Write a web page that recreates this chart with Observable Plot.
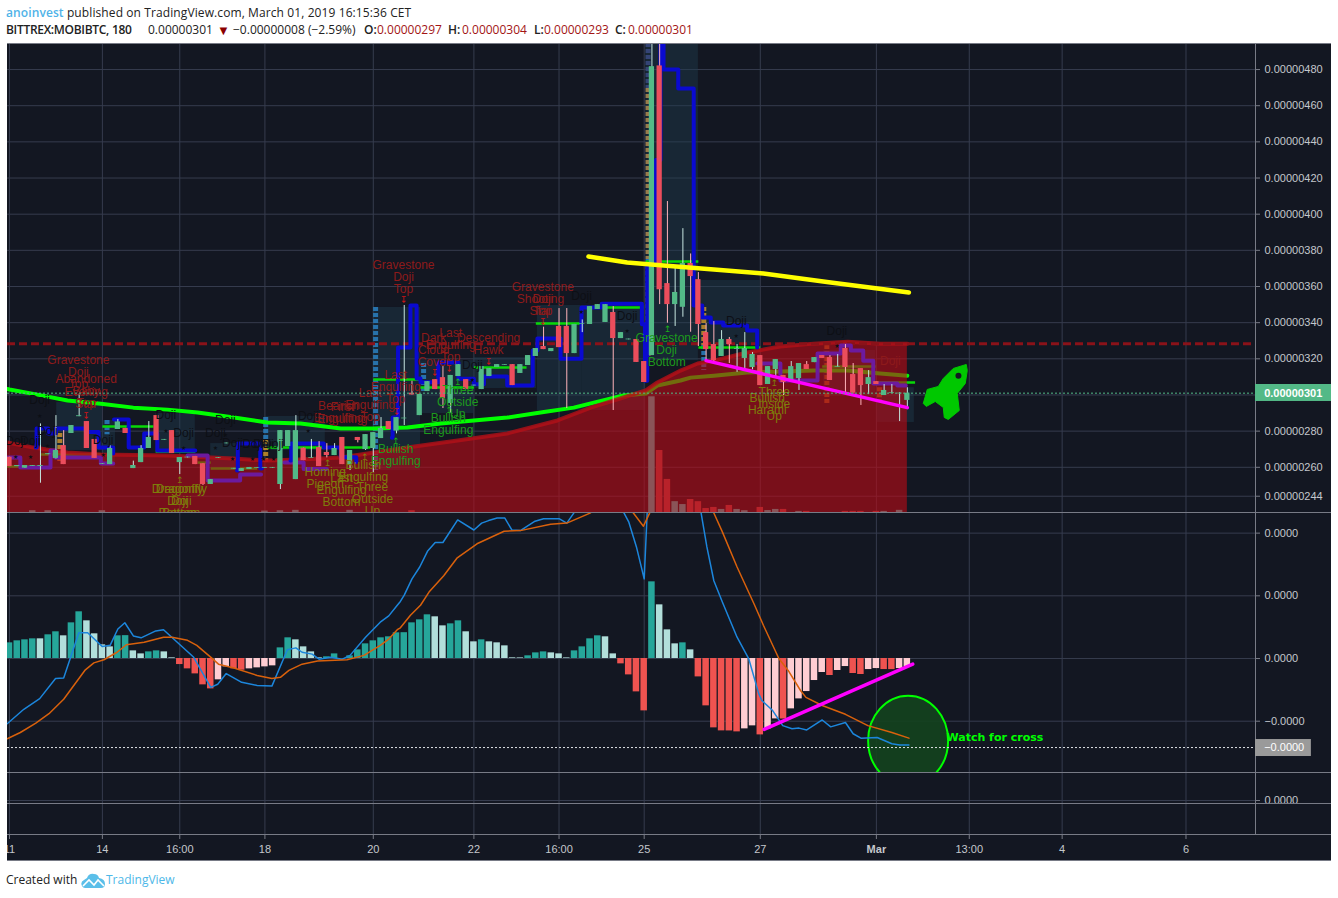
<!DOCTYPE html>
<html><head><meta charset="utf-8">
<script src="https://cdn.jsdelivr.net/npm/d3@7"></script>
<script src="https://cdn.jsdelivr.net/npm/@observablehq/plot@0.6"></script>
<style>
html,body{margin:0;padding:0;background:#fff;width:1338px;height:898px;overflow:hidden}
#page{position:relative;width:1338px;height:898px;font-family:"Open Sans",sans-serif}
.hd{position:absolute;left:6px;font-size:12px;color:#222;white-space:nowrap;line-height:16px}
.ln{position:absolute;left:0;top:22px;height:16px;font-size:12px;color:#222;white-space:nowrap;line-height:16px}
.ln span{position:absolute;top:0}
.pane{position:absolute;left:7px;width:1324px;background:#131722}
.pane svg{display:block}
.sep{position:absolute;left:7px;width:1324px;height:1px;background:#787b86}
.v{color:#a31515}.b{font-weight:600}
</style></head><body><div id="page">
<div class="hd" style="top:5px;letter-spacing:.1px"><b style="color:#4fb3e8;font-weight:600">anoinvest</b> published on TradingView.com, March 01, 2019 16:15:36 CET</div>
<div class="ln">
<span class="b" style="left:6px;letter-spacing:-.3px">BITTREX:MOBIBTC, 180</span>
<span style="left:148px">0.00000301</span>
<span style="left:217px;color:#8b0000;font-size:13px">▼</span>
<span style="left:233px">−0.00000008 (−2.59%)</span>
<span class="b" style="left:364px">O:</span><span class="v" style="left:377px">0.00000297</span>
<span class="b" style="left:448px">H:</span><span class="v" style="left:462px">0.00000304</span>
<span class="b" style="left:534px">L:</span><span class="v" style="left:544px">0.00000293</span>
<span class="b" style="left:615px">C:</span><span class="v" style="left:628px">0.00000301</span>
</div>
<div class="hd" style="top:872px">Created with</div>
<svg width="25" height="15" viewBox="0 0 25 15" style="position:absolute;left:81px;top:873px"><path d="M1 13 Q-1 9 3 7 L6 5 Q8 0 13 1 Q17 1 18 5 Q24 6 24 11 Q24 15 20 15 L4 15 Q2 15 1 13Z" fill="#5bbfe9"/><path d="M2 13 L8 7 L13 12 L17 7 L23 13" fill="none" stroke="#fff" stroke-width="1.6"/></svg>
<div class="hd" style="top:872px;left:106px;color:#4db8e8">TradingView</div>
<div class="pane" id="p1" style="top:43px;height:469px"></div>
<div class="pane" id="p2" style="top:512px;height:260px"></div>
<div class="pane" id="p3" style="top:772px;height:31px"></div>
<div class="pane" id="p4" style="top:803px;height:31px"></div>
<div class="pane" id="p5" style="top:834px;height:27px"></div>
<div class="sep" style="top:43px"></div><div class="sep" style="top:512px"></div><div class="sep" style="top:772px"></div><div class="sep" style="top:803px"></div><div class="sep" style="top:834px"></div><div class="sep" style="top:860px"></div>
</div>
<script>
const candleO=[265.6,260.4,259.5,260.5,260.5,267,264.9,272,278.7,288,285.3,275.4,261.6,261.5,280.9,281.5,259.3,262.6,270.4,288.6,275,280.3,262.6,265.2,266,262,250.5,265,273,259,257.7,258.8,259.5,259.5,259.5,250.5,271.5,253.2,270.6,265,270.9,268.2,266.5,276.5,261.5,276.5,269.8,270.4,275.9,285.3,280,286.8,301,288.6,301.9,308.5,309.6,295.3,310.2,308.5,305,303,310.2,315.2,316.4,316.8,311.9,316.3,321.3,326.8,324,337.9,337.9,322.9,339,339,347.3,340.1,345.6,331.2,330.5,330.7,318.5,321.8,482,361.6,350,348.5,372.7,363.8,334.5,327.9,321.3,330.7,325.2,320.2,315.2,321.8,305.8,314.1,310.8,308,309.1,316.8,317.9,321.8,320.7,315.3,325.7,311.3,314.6,305.8,307.4,299.7,300.8,300.6,297];
const candleH=[265.6,261,261,261,284,267.5,288.6,280.3,283.1,300.6,285.3,275.4,262,272,286.4,281.5,263.4,272,285.3,288.6,275.4,280.3,265.4,265.6,266,262,253.2,265.4,273.4,259.4,259.3,259.9,259.9,259.9,259.9,280.3,280.3,288.6,270.6,275.4,274.2,273.1,273.1,276.5,269.3,276.5,278.1,279.2,287.5,285.3,287.5,349.5,307.6,300.3,307.4,308.5,315.7,310.8,316.8,308.5,305.4,315.7,314.6,316.8,316.8,316.8,316.8,321.8,325.7,337.5,325.7,347.8,347.8,339,341.5,348.9,350,350,348.9,334.5,330.9,330.7,318.5,500,500,407,371.6,392,378,367.7,339.5,340.6,335.6,331.8,327.9,334.5,323.5,321.8,315.7,319.6,310.8,318.5,317.4,318.5,320.7,321.8,321.8,322.4,327.9,317.4,314.6,313.5,307.4,305.8,305.8,301.2,304];
const candleL=[260.4,260.4,259.5,260.5,251.2,267,264.6,261.5,278.7,288,270.4,264.9,261.6,261.5,280.9,278.7,259.3,262.6,270.4,274.8,275,267.6,256,265.2,261.5,250,250.5,265,273,259,257.7,258.8,259.5,259.5,259.5,247.7,271.5,253.2,263.7,265,260.4,265.2,266.5,261.5,258.2,273.5,269.3,257.1,275.9,280.9,278.5,283.1,300,288.6,301.9,303,292.5,289.7,310.2,303,305,303,310.2,315.2,316.4,305.2,311.9,316.3,321.3,325.1,324,326.2,292.5,322.9,334.5,339,347.3,340.1,291.4,331.2,330.5,318,306.9,321.8,350,339.7,337.9,343,334.7,326.8,318.1,317.6,321.3,317.4,312.5,313.5,313.9,305.2,305.8,309.8,299.7,308,302.5,314.1,317.9,320.2,308,315.3,301,301,294.2,300.2,305.8,299.7,300.8,285.3,293];
const candleC=[260.4,261,261,261,261,267.5,269.3,261.5,283.1,288.5,270.4,264.9,262,270.4,285.1,278.7,261,270.4,276.5,274.8,275.4,267.6,265.4,265.6,261.5,250.5,253.2,265.4,273.4,259.4,259.3,259.9,259.9,259.9,259.9,280.3,280.3,280.3,263.7,265.4,260.4,266.5,270.4,261.5,269.3,274.8,278.1,279.2,281.5,280.9,287.5,287.2,300,300.3,307.4,303,298,310.8,316.8,303,305.4,315.7,314.6,316.8,316.8,305.2,316.8,321.8,325.7,325.1,325.7,326.2,322.9,339,339.4,348.9,350,350,331.2,334.5,330.9,318,306.9,481.6,358.2,350,356.7,372.7,365.5,339,325.1,319,330.7,327.9,325.7,325.7,322.4,305.2,315.7,319.6,306.9,315.7,317.4,314.1,320.7,320.2,308,315.7,315.2,301,305.2,309.6,305.8,302.5,301.2,301,301];

const volIdx=[83,84,85,86,87,88,89,90,91,92,93,94,95,97,98,99,100,102,103,108,109,110,112,113,115,3,5,12,33,35,37,44,52];
const volVal=[64,34.3,18.3,6,4.4,7.2,6,2.2,2.8,1.7,3.9,1.7,1,2.8,1.1,1.7,1.7,.6,.6,.6,.6,.6,.6,.6,1.2,1,1,1,.8,1,1.2,1.2,1];

const maIdx=[-0.3,0,3.6,7.5,11.8,16,20.4,24.3,29,33.3,37.6,42.8,47,51.4,55.7,60,64.3,68.6,72.9,75.5,79.3,82.2,83.7,86.7,88,91,95.3,99.6,103.9,108.3,112.5,116];
const maVal=[303.3,303,300.2,296.9,295.2,293,291.9,290.3,287.5,284.8,284.2,281.4,281.4,282,284.2,285.9,287.5,290.3,293,295.8,299.7,300.8,305.2,308,309.6,310.7,312.4,313,313.5,313.5,311.9,310.7];
const emaIdx=[-0.3,3.1,7.5,11.8,20.4,28.9,33.3,37.6,42.8,51.4,57.9,64.3,70.8,75.1,79.3,82.2,83.7,86.7,88.9,91,95.3,99.6,103.9,108.3,112.5,116];
const emaVal=[273.7,270.9,268.2,267.1,266.5,264.8,263.7,264.3,265.4,270.9,274.8,278.7,285.9,293,298.6,302.5,306.9,313.5,317.4,319,323.5,326.8,328.4,329.5,328.4,328.4];

const priceTicks=[480,460,440,420,400,380,360,340,320,300,280,260,244];
const priceTickLabels=[480,460,440,420,400,380,360,340,320,280,260,244];
const macdTicks=[2,1,0,-1];
const xTickIdx=[0,12,22,33,47,60,71,82,97,112,124,136,152];
const xTickLabels=["11","14","16:00","18","20","22","16:00","25","27","Mar","13:00","4","6"];

const blueGroup=[1,1,1,1,1,1,1,1,1, 2,2,2,2,2,2,2, 3,3,3,3, 4,4,4,4,4, 5,5,5,5,5,5,5,5,5,5,5,5,5,5,5,5,5,5,5,5,5,5,5,5,5,5,5,5,5];
const blueIdx=[3.4,3.5,5,6,10,11.5,12.8,13,13.4, 13.5,14,15.4,17.4,19.1,23.8,24, 29.4,29.5,32.4,32.6, 36.3,36.4,40.6,42.8,44.8, 49.4,49.5,50.2,51.8,52.6,53.1,55.4,58,60,61.3,64.3,67.6,68.2,71.2,73.9,76.5,81.7,82.1,82.4,83.5,84.1,84.5,86.4,88.4,89.5,90.6,92.2,95.3,96.6];
const blueVal=[270.9,281.4,278.7,281.4,279.5,270.9,270.9,270.9,267.6, 286.4,286.4,270.9,278.7,269.3,269.3,269.3, 258.2,273.1,259.3,259.3, 263.7,273.1,270.9,265.6,263, 276.4,287.5,326.2,349.5,309.1,307,317.9,309,306,310.2,305.2,324.6,331.2,320.1,348.4,350.5,339.1,307.9,372,430,500,480,469.5,349.5,342.8,340.1,338.4,335.6,326.2];

const purpleGroup=[1,1,1,1,1,1, 2,2,2,2,2, 3,3,3,3,3,3,3,3,3, 4,4,4];
const purpleIdx=[-0.3,1.4,5.3,5.9,11.8,13.4, 23,25.6,29.8,32,32.5, 96.6,99.6,104.4,107.4,108.7,110.3,111.6,114.7,115.8, 35.5,38,41];
const purpleVal=[265.4,259.9,269.3,265.4,262.1,262.1, 266.5,252.7,256,256,256, 317.4,308,322.9,327.3,324.6,319,306.3,305.2,305.2, 262.6,259,259];

const segStart=[12,18.9,33.3,41,47,53.1,60,68,74,82.2,89,105,111.9,-0.3,4,24.3,26];
const segEnd=[18.6,24,40.6,46.6,53,60,66.8,74,81.9,89,97,111.9,117,4.3,11.8,26,32];
const segVal=[282.5,268.7,270.9,270.9,308.5,304.1,315.2,339.5,348.4,373.8,326.2,315.7,306.9,260.4,267.1,262.6,259.3];

const boxStart=[6.1,12,18.9,26,33,47,53.1,60,68.2,74,82.2,89,105.2,112.1];
const boxEnd=[12,13.7,24,29.5,40.8,53.1,60,68.1,74,82.2,89,97,111.9,116.9];
const boxTop=[295.8,285.9,289.7,273.1,288.1,348.4,319,320.7,349.5,349.5,494.4,363.3,324.6,304];
const boxBottom=[269.3,259.9,267.6,258.2,269.3,258.2,289.7,303.6,291.4,291.4,319,327.3,299.7,284.8];

const profIdx=[6.5,12.6,33.1,33.1,47.3,53.5,82.5,82.5,82.5,82.5,89.7,89.7,105.6,112.4];
const profTop=[278.7,285.9,287.5,274.8,348.4,317.4,494.4,469.5,375,360,348.4,327.3,327.3,304];
const profBottom=[262.1,278,274.8,262.1,258.2,300.8,469.5,375,360,320,327.3,313.5,294.2,297];
const profColor=["#c8902a","#2a80c0","#2a80c0","#c8902a","#2a80c0","#2a80c0","#3a4a80","#b08c50","#1f78d8","#b08c50","#c8902a","#2a80c0","#a8641e","#a8641e"];

const redLabels=["Gravestone\nDoji\nTop","Abandoned\nBaby\nTop","Evening\nStar","Gravestone\nDoji\nTop","Bearish\nEngulfing","First\nEngulfing","Last\nEngulfing\nTop","Last\nEngulfing\nTop","Dark\nCloud\nCover","Last\nEngulfing\nTop","Descending\nHawk","Gravestone\nDoji\nTop","Shooting\nStar","Doji"];
const redIdx=[8.9,9.9,9.9,50.9,42.5,43,46.6,49.9,54.8,57,61.9,68.9,68.6,113.8];
const redVal=[322.4,311.9,304.7,374.9,296.9,296.4,304.1,314.1,334.5,337.3,334.5,362.7,356.1,321.8];
const greenLabels=["Bullish\nEngulfing","Bullish\nEngulfing","Three\nOutside\nUp","Gravestone\nDoji\nBottom"];
const greenIdx=[49.9,56.7,57.9,84.9];
const greenVal=[273.1,290.3,305.8,334.5];
const oliveLabels=["Dragonfly\nDoji\nBottom","Dragonfly\nDoji\nBottom","Homing\nPigeon","Last\nEngulfing\nBottom","Bullish\nEngulfing","Three\nOutside\nUp","Three\nInside\nUp","Bullish\nHarami"];
const oliveIdx=[21.7,22.2,40.8,42.9,45.7,46.9,98.8,97.9];
const oliveVal=[251,251,260.4,257.1,264.3,252.1,304.7,301.3];
const dojiIdx=[3.9,4.9,.8,2.7,12.1,20.2,22.5,26.6,27.9,28.8,31.4,32.8,34.1,38.6,59.8,73.9,79.8,93.9,106.9];
const dojiVal=[296.9,279.8,274.2,274.2,274.8,288.6,278.7,278.7,285.9,273.1,272.6,272.6,272.6,288.1,316.3,354.4,343.4,340.6,335.1];
const downArrowIdx=[9.9,50.9,54.9,56.8,61.9,68.9,50];
const downArrowVal=[288.1,352.2,311.9,314.1,318,340.1,290.3];
const upArrowIdx=[49.9,57.9,56.8,85];
const upArrowVal=[274.3,306.9,291.4,336.2];
const oliveArrowIdx=[22,41.1,45.9,98.8];
const oliveArrowVal=[252.7,262.1,265.4,306.3];

const yellowIdx=[74.8,79.8,84.5,91,97.4,106.1,116.2];
const yellowVal=[376.6,373.3,371.6,369.4,367.2,362.2,356.7];
const magentaIdx=[90,116];
const magentaVal=[319,293];

const hist=[.25,.282,.298,.314,.314,.378,.426,.362,.569,.745,.601,.394,.218,.186,.362,.365,.122,.074,.106,.122,.106,.011,-.096,-.165,-.245,-.42,-.484,-.34,-.133,-.165,-.186,-.165,-.149,-.133,-.117,.17,.33,.298,.186,.106,.011,.027,.074,0,.043,.138,.234,.282,.33,.346,.41,.412,.569,.617,.697,.665,.521,.553,.601,.426,.266,.298,.266,.25,.202,.011,.01,.043,.09,.106,.09,.074,.01,.122,.186,.314,.362,.346,.074,-.085,-.261,-.532,-.835,1.223,.856,.457,.234,.25,.138,-.293,-.755,-1.106,-1.154,-1.155,-1.17,-1.122,-1.074,-1.218,-1.122,-.963,-.965,-.803,-.644,-.527,-.351,-.223,-.271,-.191,-.128,-.239,-.255,-.176,-.16,-.176,-.177,-.16,-.128];

const macdIdx=[-.3,1.85,3.9,5.95,7,8.96,10.1,12,13,14,14.9,16,17,18.9,19.9,23.8,26,26.9,28,30,32,33.9,35.9,37,37.8,39.1,40,41.5,43,44,46,47.9,49,50.1,50.5,51,52,53,54,55,56,57.9,60,61,61.9,63,64,64.9,66,67.9,69,71,72,72.9,76.3,77.6,79.4,80,81,82,82.4,83.2,86.2,89.3,90.1,91,92.1,94,95.5,96.8,97.2,98.6,99.9,101.1,102,103,105,106.1,108,109,110,112.1,114,115,116.2];
const macdVal=[-1.04,-.81,-.64,-.32,-.31,.41,.41,.19,.21,.47,.57,.36,.33,.44,.46,.02,-.46,-.41,-.24,-.38,-.43,-.44,.14,.17,.1,.07,-.01,.02,-.01,.05,.34,.58,.68,.85,.91,1.01,1.27,1.46,1.71,1.85,1.85,2.21,2.05,2.16,2.2,2.24,2.24,2.05,2.04,2.19,2.23,2.23,2.16,2.32,3.2,2.68,2.32,2.18,1.78,1.27,2.36,3,3.4,2.36,1.78,1.24,.9,.34,0,-.56,-.67,-.83,-1.07,-1.12,-1.11,-1.14,-.98,-1.09,-1.02,-1.2,-1.27,-1.26,-1.36,-1.38,-1.38];
const signalIdx=[-.3,1.4,3.4,5.1,7,9.8,10.9,12.2,13.9,15.1,17.4,19.9,21,23,24.2,26.1,27,29,32,33.9,35,36.1,37.8,39.8,41.3,43.6,45.8,47.9,49,50.1,50.5,51.8,53.1,54.2,56.1,57.8,60.4,63.9,66,69.9,72,75,78.5,80.6,81.9,82.7,86.2,91,92.1,94,96.2,97.4,99.4,100.6,102.2,102.9,105,108,110.9,114,116.2];
const signalVal=[-1.28,-1.18,-1.03,-.88,-.65,-.18,-.07,-.02,.1,.22,.26,.34,.34,.29,.21,.01,-.09,-.15,-.27,-.32,-.3,-.19,-.09,-.04,-.03,-.02,.05,.21,.31,.46,.49,.69,.85,1.06,1.32,1.6,1.83,2.03,2.04,2.14,2.16,2.32,2.63,2.32,2.11,2.32,3.16,2.32,2.02,1.46,.87,.53,0,-.19,-.51,-.62,-.75,-.89,-1.07,-1.18,-1.27];
const macdTrendIdx=[97.5,116.7];
const macdTrendVal=[-1.13,-.09];

const bg="#131722",gridC="#363c4e",axisC="#787b86",labelC="#c4c7cc";
const xDomain=[-0.258,160.98];
const bars=candleO.map((o,i)=>({i,o,h:candleH[i],l:candleL[i],c:candleC[i],up:candleC[i]>=o}));
const zip=(...a)=>a[0].map((_,i)=>a.map(c=>c[i]));
const vols=zip(volIdx,volVal).map(([i,v])=>({i,v,up:bars[i].up}));
const ema=zip(emaIdx,emaVal),ma=zip(maIdx,maVal);
const blue=zip(blueIdx,blueVal,blueGroup),purple=zip(purpleIdx,purpleVal,purpleGroup);
const segs=zip(segStart,segEnd,segVal);
const boxes=zip(boxStart,boxEnd,boxTop,boxBottom);
const prof=zip(profIdx,profTop,profBottom,profColor);
const labelMark=(t,ix,v,fill)=>Plot.text(zip(t,ix,v),{x:d=>d[1],y:d=>d[2],dy:1,text:d=>d[0],fill,fontSize:12,lineAnchor:"top",lineHeight:1,fontFamily:"Liberation Sans"});
const arrowMark=(ix,v,txt,fill)=>Plot.text(zip(ix,v),{x:d=>d[0],y:d=>d[1],text:()=>txt,fill,fontSize:9,fontFamily:"DejaVu Sans"});
const rocket={draw(c){const p=[[21,-26],[8,-22],[-2,-12],[-7,-4],[-18,-1],[-22,13],[-19,16],[-10,11],[-2,17],[-1,27],[3,29],[14,20],[12,3],[20,-7],[22,-20]];c.moveTo(...p[0]);p.slice(1).forEach(q=>c.lineTo(...q));c.closePath();}};
const ellipse={draw(c,size){const r=Math.sqrt(size/Math.PI),ry=r*1.125,k=.5523;c.moveTo(r,0);c.bezierCurveTo(r,k*ry,k*r,ry,0,ry);c.bezierCurveTo(-k*r,ry,-r,k*ry,-r,0);c.bezierCurveTo(-r,-k*ry,-k*r,-ry,0,-ry);c.bezierCurveTo(k*r,-ry,r,-k*ry,r,0);c.closePath();}};
const base=(h,extra)=>Object.assign({width:1324,height:h,marginTop:0,marginBottom:0,marginLeft:0,marginRight:76,style:{background:"transparent",fontFamily:"Liberation Sans",fontSize:"11px"},x:{domain:xDomain,axis:null}},extra);
const axisRule=Plot.ruleX([xDomain[1]],{stroke:axisC});
const vgrid=Plot.ruleX(xTickIdx,{stroke:gridC});

document.getElementById("p1").append(Plot.plot(base(469,{y:{domain:[235,494.4],axis:null},marks:[
  vgrid,
  Plot.ruleY(priceTicks,{stroke:gridC}),
  Plot.rect(boxes,{x1:d=>d[0],x2:d=>d[1],y1:d=>d[3],y2:d=>d[2],fill:"#1f3b4d",fillOpacity:.45}),
  Plot.ruleX(prof,{x:d=>d[0],y1:d=>d[1],y2:d=>d[2],stroke:d=>d[3],strokeWidth:5,strokeDasharray:"4 2",strokeOpacity:.85}),
  Plot.line(ma,{x:d=>d[0],y:d=>d[1],stroke:"#00ff00",strokeWidth:4,clip:true}),
  Plot.link(segs,{x1:d=>d[0],x2:d=>d[1],y1:d=>d[2],y2:d=>d[2],stroke:"#08d808",strokeWidth:2.5,clip:true}),
  Plot.areaY(ema,{x:d=>d[0],y1:235,y2:d=>d[1],fill:"#be0a16",fillOpacity:.6,clip:true}),
  Plot.line(ema,{x:d=>d[0],y:d=>d[1],stroke:"#b31018",strokeWidth:4,strokeOpacity:.8,clip:true}),
  Plot.ruleY([328.4],{stroke:"#8a1219",strokeWidth:3,strokeDasharray:"8 4"}),
  Plot.rectY(vols,{x1:d=>d.i-.42,x2:d=>d.i+.42,y1:235,y2:d=>235+d.v,fill:d=>d.up?"#8a5458":"#b8222a"}),
  Plot.line(purple,{x:d=>d[0],y:d=>d[1],z:d=>d[2],curve:"step-after",stroke:"#6c1a9e",strokeWidth:4,clip:true}),
  Plot.line(blue,{x:d=>d[0],y:d=>d[1],z:d=>d[2],curve:"step-after",stroke:"#0a0ad0",strokeWidth:4,clip:true}),
  Plot.ruleX(bars,{x:"i",y1:"l",y2:"h",stroke:d=>d.up?"#c6e6e0":"#ffb3ba",strokeWidth:1,clip:true}),
  Plot.rect(bars,{x1:d=>d.i-.34,x2:d=>d.i+.34,y1:"o",y2:"c",fill:d=>d.up?"#53b987":"#eb4d5c",clip:true}),
  labelMark(redLabels,redIdx,redVal,"#8e1a1a"),
  labelMark(greenLabels,greenIdx,greenVal,"#1d9a1d"),
  labelMark(oliveLabels,oliveIdx,oliveVal,"#7d7d0a"),
  Plot.text(zip(dojiIdx,dojiVal),{x:d=>d[0],y:d=>d[1],text:()=>"Doji",fill:"#0d0f15",fontSize:12,fontFamily:"Liberation Sans"}),
  Plot.text(zip(dojiIdx,dojiVal),{x:d=>d[0],y:d=>d[1],dy:15,text:()=>"★",fill:"#0d0f15",fontSize:6,fontFamily:"DejaVu Sans"}),
  arrowMark(downArrowIdx,downArrowVal,"↧","#d01515"),
  arrowMark(upArrowIdx,upArrowVal,"↥","#18b018"),
  arrowMark(oliveArrowIdx,oliveArrowVal,"↥","#7d7d0a"),
  Plot.line(zip(yellowIdx,yellowVal),{x:d=>d[0],y:d=>d[1],stroke:"#ffff00",strokeWidth:4.5}),
  Plot.line(zip(magentaIdx,magentaVal),{x:d=>d[0],y:d=>d[1],stroke:"#ff00ff",strokeWidth:3.5}),
  Plot.ruleY([301],{stroke:"#53b987",strokeDasharray:"2 2",strokeWidth:1}),
  Plot.dot([[120.9,302.5]],{x:d=>d[0],y:d=>d[1],r:1,symbol:rocket,fill:"#00c800",stroke:"#00c800",strokeLinejoin:"round",strokeWidth:1}),
  Plot.dot([[122.6,310.7]],{x:d=>d[0],y:d=>d[1],r:3,fill:bg}),
  axisRule,
  Plot.axisY(priceTickLabels,{anchor:"right",tickSize:4,tickPadding:5,tickFormat:d=>"0.00000"+d,color:labelC,stroke:axisC,fontSize:11,label:null}),
  Plot.rect([[160.98,170.9,296.4,305.8]],{x1:d=>d[0],x2:d=>d[1],y1:d=>d[2],y2:d=>d[3],fill:"#53b987"}),
  Plot.text(["0.00000301"],{x:162.1,y:301,text:d=>d,textAnchor:"start",fill:"#fff",fontWeight:"bold",fontSize:11})
]})));

document.getElementById("p2").append(Plot.plot(base(260,{y:{domain:[-1.818,2.329],axis:null},marks:[
  vgrid,
  Plot.ruleY(macdTicks,{stroke:gridC}),
  Plot.dot([[116.1,-1.31]],{x:d=>d[0],y:d=>d[1],r:40,symbol:ellipse,fill:"#14421e",fillOpacity:.92,stroke:"#00ff00",strokeWidth:2}),
  Plot.rectY(hist.map((v,i)=>({i,v,p:i?hist[i-1]:0})),{x1:d=>d.i-.42,x2:d=>d.i+.42,y1:0,y2:"v",fill:d=>d.v>=0?(d.v>d.p?"#26a69a":"#b2dfdb"):(d.v<d.p?"#ef5350":"#ffcdd2")}),
  Plot.line(zip(macdIdx,macdVal),{x:d=>d[0],y:d=>d[1],stroke:"#1c86dc",strokeWidth:1.5,clip:true}),
  Plot.line(zip(signalIdx,signalVal),{x:d=>d[0],y:d=>d[1],stroke:"#d9610c",strokeWidth:1.5,clip:true}),
  Plot.line(zip(macdTrendIdx,macdTrendVal),{x:d=>d[0],y:d=>d[1],stroke:"#ff00ff",strokeWidth:3.5}),
  Plot.ruleY([-1.42],{stroke:"#dfe2e6",strokeDasharray:"2 2",strokeWidth:1}),
  Plot.text(["Watch for cross"],{x:121.06,y:-1.26,text:d=>d,textAnchor:"start",fill:"#00ff00",fontWeight:"bold",fontSize:11,fontFamily:"DejaVu Sans"}),
  axisRule,
  Plot.axisY(macdTicks,{anchor:"right",tickSize:4,tickPadding:5,tickFormat:d=>d<0?"−0.0000":"0.0000",color:labelC,stroke:axisC,fontSize:11,label:null}),
  Plot.rect([[160.98,168.2,-1.292,-1.563]],{x1:d=>d[0],x2:d=>d[1],y1:d=>d[2],y2:d=>d[3],fill:"#9a9a9a"}),
  Plot.text(["−0.0000"],{x:162.1,y:-1.42,text:d=>d,textAnchor:"start",fill:"#fff",fontSize:11})
]})));

document.getElementById("p3").append(Plot.plot(base(31,{y:{domain:[-3,28],axis:null},marks:[
  vgrid,Plot.ruleY([0],{stroke:gridC}),axisRule,
  Plot.axisY([0],{anchor:"right",tickSize:4,tickPadding:5,tickFormat:()=>"0.0000",color:labelC,stroke:axisC,fontSize:11,label:null})
]})));
document.getElementById("p4").append(Plot.plot(base(31,{y:{domain:[0,1],axis:null},marks:[vgrid,axisRule]})));
const tick=d=>xTickLabels[xTickIdx.indexOf(d)];
document.getElementById("p5").append(Plot.plot(base(27,{y:{domain:[0,1],axis:null},marginBottom:26,marks:[
  Plot.axisX(xTickIdx.filter(d=>tick(d)!=="Mar"),{anchor:"bottom",tickSize:4,tickPadding:6,tickFormat:tick,color:labelC,stroke:axisC,fontSize:11,label:null}),
  Plot.axisX(xTickIdx.filter(d=>tick(d)==="Mar"),{anchor:"bottom",tickSize:4,tickPadding:6,tickFormat:tick,color:labelC,stroke:axisC,fontSize:11,fontWeight:"bold",label:null}),
  axisRule
]})));
</script></body></html>
